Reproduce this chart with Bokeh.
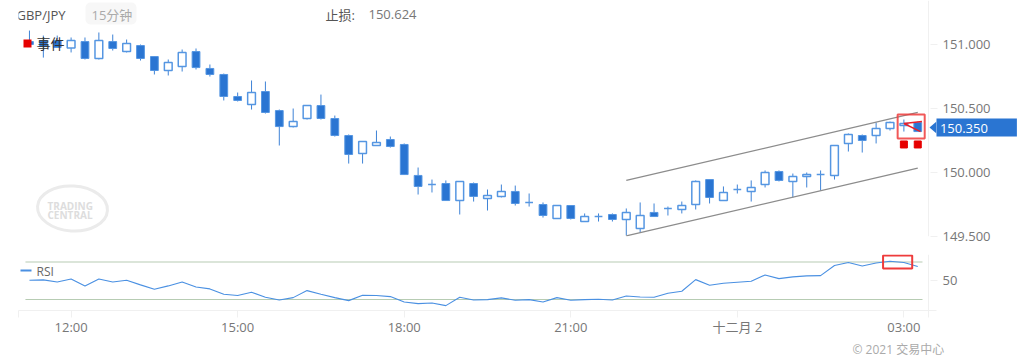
from bokeh.plotting import figure
from bokeh.layouts import column
from bokeh.models import Range1d, FixedTicker, NumeralTickFormatter, Label, BoxAnnotation, PolyAnnotation
from bokeh.embed import file_html
from bokeh.resources import INLINE

open_ = [151.023,151.031,151.031,150.973,151.023,150.891,151.023,150.945,150.992,150.906,
         150.797,150.828,150.945,150.813,150.766,150.594,150.531,150.633,150.484,150.359,
         150.422,150.523,150.422,150.289,150.148,150.211,150.258,150.219,149.977,149.906,
         149.914,149.781,149.914,149.797,149.813,149.852,149.766,149.750,149.641,149.742,
         149.617,149.656,149.672,149.633,149.563,149.688,149.719,149.711,149.750,149.945,
         149.781,149.867,149.852,149.906,150.008,149.930,149.969,149.984,149.977,150.227,
         150.289,150.289,150.344,150.367,150.391]
high = [151.109,151.070,151.070,151.055,151.055,151.094,151.078,151.039,151.000,150.906,
        150.883,150.961,150.969,150.844,150.773,150.625,150.719,150.711,150.492,150.500,
        150.523,150.609,150.445,150.297,150.242,150.328,150.281,150.227,150.039,149.945,
        149.938,149.930,149.922,149.867,149.906,149.898,149.836,149.766,149.742,149.742,
        149.680,149.680,149.680,149.719,149.766,149.758,149.734,149.773,149.938,149.945,
        149.891,149.906,149.938,150.016,150.016,149.992,150.000,150.016,150.211,150.305,
        150.297,150.391,150.398,150.414,150.398]
low = [151.000,150.898,150.977,150.938,150.883,150.883,150.953,150.938,150.875,150.766,
       150.758,150.789,150.805,150.750,150.563,150.555,150.492,150.461,150.211,150.352,
       150.414,150.414,150.281,150.070,150.070,150.211,150.195,149.984,149.828,149.844,
       149.781,149.672,149.773,149.703,149.805,149.742,149.734,149.648,149.641,149.633,
       149.617,149.617,149.617,149.508,149.531,149.656,149.664,149.680,149.711,149.758,
       149.781,149.836,149.773,149.883,149.930,149.805,149.883,149.859,149.945,150.164,
       150.156,150.227,150.328,150.320,150.320]
close = [151.000,150.984,150.977,151.031,150.891,151.031,150.969,151.008,150.891,150.797,
         150.859,150.938,150.820,150.766,150.594,150.563,150.625,150.469,150.359,150.398,
         150.523,150.422,150.289,150.141,150.242,150.234,150.203,149.984,149.891,149.906,
         149.781,149.930,149.813,149.820,149.852,149.758,149.766,149.664,149.742,149.641,
         149.656,149.656,149.633,149.688,149.664,149.656,149.719,149.742,149.930,149.805,
         149.844,149.867,149.883,150.000,149.938,149.969,149.984,149.984,150.211,150.297,
         150.250,150.344,150.391,150.383,150.320]
rsi = [50.5,50.9,48.7,51.95,44.5,51.95,48.7,50.5,45.6,40.9,
       44.5,48.7,43.4,41.3,35.6,34.2,37.7,32.4,29.5,32.0,
       39.5,35.6,32.0,28.8,34.5,34.2,33.1,27.4,25.6,26.3,
       23.5,32.4,29.5,29.9,31.7,29.2,29.9,27.4,32.0,29.2,
       29.9,30.3,29.5,33.8,32.7,32.4,36.6,38.8,51.2,45.2,
       47.3,48.4,49.4,56.2,52.3,54.1,55.2,55.5,66.2,69.4,
       65.8,69.0,70.8,69.4,65.1]
time_ticks = [3, 15, 27, 39, 51, 63]
time_labels = ["12:00", "15:00", "18:00", "21:00", "十二月 2", "03:00"]
price_ticks = [149.5, 150.0, 150.5, 151.0]
rsi_ticks = [50]
rsi_bands = [70, 30]
channel_upper = [149.938, 150.469]
channel_lower = [149.504, 150.034]
channel_x = [43, 64]
event_x = [63, 64]
event_y = [150.219, 150.219]

FONT = '"Open Sans", "Noto Sans CJK SC"'
BLUE = "#2a75d2"
HOLLOW = "#5596e2"
PALE = "#f0f0f0"
GREY = "#777777"
RED = "#ee3b3b"
XS, XM, XE = -0.79, 64.77, 65.35
x = list(range(len(close)))
W = 1017


def label(p, text, sx, sy, size="13px", color=GREY, style="normal", align="left", side=None, **kw):
    lb = Label(x=sx, y=sy, x_units="canvas", y_units="canvas", text=text,
               text_font=FONT, text_font_size=size, text_color=color,
               text_font_style=style, text_align=align, text_baseline="middle", **kw)
    if side:
        p.add_layout(lb, side)
    else:
        p.add_layout(lb)


def right_axis(a):
    a.axis_line_color = None
    a.major_tick_line_color = PALE
    a.major_tick_out = 1
    a.major_tick_in = 6
    a.minor_tick_line_color = None
    a.major_label_standoff = 5
    a.major_label_text_font = FONT
    a.major_label_text_font_size = "13px"
    a.major_label_text_color = GREY


p1 = figure(width=W, height=254, output_backend="svg", toolbar_location=None,
            x_range=Range1d(XS, XE), y_range=Range1d(149.500, 151.344),
            x_axis_location=None, y_axis_location="right",
            min_border_left=18, min_border_right=81, min_border_top=0, min_border_bottom=18,
            outline_line_color=None)
p1.grid.visible = False
ax = p1.yaxis[0]
ax.ticker = FixedTicker(ticks=price_ticks)
ax.formatter = NumeralTickFormatter(format="0.000")
right_axis(ax)
p1.line([XM, XM], [149.500, 151.344], color=PALE, line_width=1)

# watermark
p1.ellipse([3.1], [149.719], width=70, height=45, width_units="screen", height_units="screen",
           angle=-0.06, fill_color=None, line_color="#ebebeb", line_width=3)
label(p1, "TRADING", 47, 205, "10px", "#dddddd", "bold")
label(p1, "CENTRAL", 47, 214, "10px", "#dddddd", "bold")

# candles
ix_up = [i for i in x if close[i] >= open_[i]]
ix_dn = [i for i in x if close[i] < open_[i]]
p1.segment(x, high, x, low, color=BLUE, line_width=1, line_alpha=0.9)
p1.vbar([i for i in ix_up], top=[close[i] for i in ix_up], bottom=[open_[i] for i in ix_up], width=0.56,
        fill_color="white", line_color=HOLLOW, line_width=1.5)
p1.vbar([i for i in ix_dn], top=[open_[i] for i in ix_dn], bottom=[close[i] for i in ix_dn], width=0.56,
        fill_color=BLUE, line_color="#5596e2", line_width=1)

# channel
p1.line(channel_x, channel_upper, color="#8c8c8c", line_width=1.3)
p1.line(channel_x, channel_lower, color="#8c8c8c", line_width=1.3)

# pattern markers
p1.segment([63, 63], [150.383, 150.383], [64.3, 64.2], [150.398, 150.32], color="#e8202a", line_width=1.5)
p1.quad(left=[62.55], right=[64.5], top=[150.453], bottom=[150.266], fill_color=None,
        line_color=RED, line_width=2, line_alpha=0.85)
p1.scatter(event_x, event_y, marker="square", size=7, color="#e60000")

# header
p1.add_layout(BoxAnnotation(left=85, right=136, top=2, bottom=24, left_units="canvas", right_units="canvas",
                            top_units="canvas", bottom_units="canvas", fill_color="#f7f7f7", fill_alpha=1,
                            line_color=None, border_radius=5))
label(p1, "GBP/JPY", 16, 14, "13px", "#555555")
label(p1, "15分钟", 91, 14, "13px", "#aaaaaa")
label(p1, "止损:", 325, 14, "13px", "#555555")
label(p1, "150.624", 368, 14, "13px", "#777777")

# event legend
p1.add_layout(BoxAnnotation(left=23, right=31, top=39, bottom=47, left_units="canvas", right_units="canvas",
                            top_units="canvas", bottom_units="canvas", fill_color="#e60000", fill_alpha=1,
                            line_color=None))
label(p1, "事件", 36, 43, "14px", "#333333")

# last price tag
p1.add_layout(PolyAnnotation(xs=[929, 936, 936], ys=[127, 121, 133], xs_units="canvas", ys_units="canvas",
                             fill_color=BLUE, fill_alpha=1, line_color=None))
label(p1, "\u00a0150.350", 936, 127, "13px", "white", side="below",
      background_fill_color=BLUE, padding=(0, 29, 0, 0))

p2 = figure(width=W, height=107, output_backend="svg", toolbar_location=None,
            x_range=p1.x_range, y_range=Range1d(18.27, 78.0), y_axis_location="right",
            min_border_left=18, min_border_right=81, min_border_top=0, min_border_bottom=51,
            outline_line_color=None)
p2.grid.visible = False
ay = p2.yaxis[0]
ay.ticker = FixedTicker(ticks=rsi_ticks)
right_axis(ay)
p2.line([XM, XM], [18.27, 78.0], color=PALE, line_width=1)
axx = p2.xaxis[0]
axx.ticker = FixedTicker(ticks=[XS] + time_ticks + [XM])
axx.major_label_overrides = {**dict(zip(time_ticks, time_labels)), XS: "", XM: ""}
axx.axis_line_color = PALE
axx.major_tick_line_color = PALE
axx.major_tick_out = 7
axx.major_tick_in = 0
axx.minor_tick_line_color = None
axx.major_label_standoff = 0
axx.major_label_text_font = FONT
axx.major_label_text_font_size = "13px"
axx.major_label_text_color = GREY

for b in rsi_bands:
    p2.line([-0.29, 64.34], [b, b], color="#b7ccb3", line_width=1.2)
p2.line(x, rsi, color="#4a90e2", line_width=1.1)
p2.quad(left=[61.5], right=[63.6], top=[76.9], bottom=[63.1], fill_color=None, line_color=RED, line_width=2)

p2.add_layout(BoxAnnotation(left=20, right=31, top=15, bottom=17, left_units="canvas", right_units="canvas",
                            top_units="canvas", bottom_units="canvas", fill_color="#4a90e2", fill_alpha=1,
                            line_color=None))
label(p2, "RSI", 36, 17, "12px", "#666666")
label(p2, "© 2021 交易中心", 852, 95, "12px", "#aaaaaa", side="below")

open("out.html", "w").write(file_html(column(p1, p2, spacing=0), INLINE))
